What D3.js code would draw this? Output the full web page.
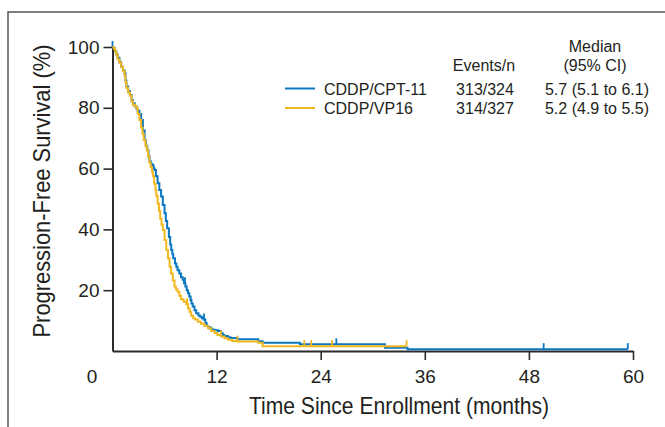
<!DOCTYPE html>
<html><head><meta charset="utf-8">
<script src="https://cdn.jsdelivr.net/npm/d3@7"></script>
<style>
body{margin:0;background:#fff}
svg{display:block}
text{font-family:"Liberation Sans",Arial,Helvetica,sans-serif;fill:#231f20}
</style>
</head><body>
<svg id="chart" width="665" height="427"></svg>
<script>
// ---- data ----
const seriesNames = ["CDDP/CPT-11", "CDDP/VP16"];
const eventsN = ["313/324", "314/327"];
const medianCI = ["5.7 (5.1 to 6.1)", "5.2 (4.9 to 5.5)"];
const xTicks = [0, 12, 24, 36, 48, 60];
const yTicks = [20, 40, 60, 80, 100];

const cptTime = [0,0.15,0.3,0.45,0.6,0.8,1.0,1.2,1.4,1.5,1.6,1.8,2.0,2.2,2.35,2.55,2.75,2.9,3.1,3.3,3.5,3.7,3.85,4.0,4.15,4.27,4.45,4.6,4.75,4.85,5.0,5.2,5.4,5.6,5.8,6.0,6.15,6.3,6.5,6.65,6.77,6.9,7.0,7.2,7.35,7.5,7.7,7.9,8.1,8.25,8.4,8.55,8.7,8.85,9.0,9.1,9.25,9.45,9.65,9.9,10.1,10.3,10.5,10.7,10.85,11.0,11.3,11.5,11.8,12.15,12.5,12.7,12.9,13.3,13.6,14.4,16.8,17.3,21.6,31.4,34.0,59.4];
const cptSurv = [100,99.5,98.5,97.5,96.5,95,93.5,92.3,91.3,89,87,85.5,84.2,82.5,81.5,80.5,79.8,79,78,76,72.5,69.4,67.5,66,64,62.3,61.5,61,60,59.5,57.5,55.2,53,50.8,48,45.3,42.8,40.4,37.5,35,33.2,31.8,30.5,28.8,27.7,26.6,25.5,24.3,23.4,22.3,21.2,20,19,17.9,16.8,15.6,14.6,13.4,12.4,11.7,11.3,10.8,10.4,9.2,8.3,7.8,7.3,7.0,6.8,6.6,5.8,5.3,4.9,4.5,4.3,3.9,3.2,2.7,2.2,1.1,0.6,0.6];
const cptCensor = [0, 8.35, 10.55, 25.8, 49.7, 59.4];

const vpTime = [0,0.15,0.3,0.45,0.6,0.8,1.0,1.2,1.4,1.5,1.6,1.8,2.0,2.2,2.35,2.55,2.75,2.9,3.1,3.3,3.45,3.6,3.8,3.95,4.1,4.25,4.4,4.55,4.65,4.8,4.95,5.05,5.2,5.35,5.5,5.65,5.8,6.0,6.2,6.4,6.58,6.75,6.95,7.15,7.3,7.5,7.7,7.9,8.2,8.5,8.7,8.9,9.07,9.3,9.5,9.85,10.2,10.6,11.0,11.4,11.76,12.1,12.5,12.9,13.3,13.8,14.4,16.8,17.3,33.9];
const vpSurv = [100,99.5,98.5,97.3,96,94.8,93.5,92,90.5,88.5,86.5,85,84,82,81,80.5,80,78,76,73.5,71.5,69.4,67.5,66,64,62,60.5,59,57.5,55,53,51,48.5,46,43.5,41.5,39.8,36.5,33.2,30.5,27.7,25.5,23.2,21.2,20.3,19.5,18.2,17,16.2,15.4,14,12.8,11.6,10.8,10.4,9.6,9.0,8.2,7.5,6.6,5.9,5.3,4.8,4.2,3.7,3.3,3.1,2.7,1.6,1.6];
const vpCensor = [8.6, 12.5, 14.4, 22.1, 22.9, 25.3, 33.9];

// ---- drawing ----
const svg = d3.select("#chart");
const colors = ["#0b77c0", "#f2b820"];
const x = d3.scaleLinear().domain([0, 60]).range([112.5, 633]);
const y = d3.scaleLinear().domain([0, 100]).range([351, 47]);

// frame
svg.append("path").attr("d", "M8,427 L8,12 L665,12")
  .attr("fill", "none").attr("stroke", "#555").attr("stroke-width", 1.5);

// axes
const xAxis = svg.append("g").attr("transform", `translate(0,${y(0)})`)
  .call(d3.axisBottom(x).tickValues(xTicks).tickSize(9).tickSizeOuter(0).tickPadding(10).tickFormat(d3.format("d")));
const yAxis = svg.append("g").attr("transform", `translate(${x(0)},0)`)
  .call(d3.axisLeft(y).tickValues(yTicks).tickSize(9).tickSizeOuter(0).tickPadding(4).tickFormat(d3.format("d")));
[xAxis, yAxis].forEach(g => {
  g.attr("font-size", null).attr("font-family", null);
  g.select(".domain").attr("stroke", "#2b2b2b").attr("stroke-width", 2);
  g.selectAll(".tick line").attr("stroke", "#2b2b2b").attr("stroke-width", 1.6);
  g.selectAll(".tick text").attr("font-size", 19).attr("fill", "#231f20")
    .attr("font-family", "'Liberation Sans', Arial, sans-serif");
});
xAxis.selectAll(".tick").filter(d => d === 0).select("line").remove();
xAxis.selectAll(".tick").filter(d => d === 0).select("text").attr("x", -21);

// curves
const series = [
  {t: cptTime, s: cptSurv, c: cptCensor},
  {t: vpTime, s: vpSurv, c: vpCensor}
];
const line = d3.line().x(d => x(d[0])).y(d => y(d[1])).curve(d3.curveStepAfter);
function survAt(ser, t) {
  let v = ser.s[0];
  for (let i = 0; i < ser.t.length; i++) { if (ser.t[i] <= t) v = ser.s[i]; }
  return v;
}
series.forEach((ser, i) => {
  const pts = ser.t.map((t, k) => [t, ser.s[k]]);
  svg.append("path").datum(pts).attr("d", line)
    .attr("fill", "none").attr("stroke", colors[i]).attr("stroke-width", 2);
  svg.append("g").selectAll("line").data(ser.c).join("line")
    .attr("x1", d => x(d)).attr("x2", d => x(d))
    .attr("y1", d => y(survAt(ser, d))).attr("y2", d => y(survAt(ser, d)) - 6)
    .attr("stroke", colors[i]).attr("stroke-width", 1.8);
});

// titles
svg.append("text").attr("x", 399).attr("y", 414).attr("text-anchor", "middle")
  .attr("font-size", 24).attr("textLength", 300).attr("lengthAdjust", "spacingAndGlyphs")
  .text("Time Since Enrollment (months)");
svg.append("text").attr("transform", "translate(50,191) rotate(-90)").attr("text-anchor", "middle")
  .attr("font-size", 24).attr("textLength", 293).attr("lengthAdjust", "spacingAndGlyphs")
  .text("Progression-Free Survival (%)");

// legend
const lg = svg.append("g").attr("font-size", 16);
lg.append("text").attr("x", 595).attr("y", 52).attr("text-anchor", "middle").text("Median");
lg.append("text").attr("x", 595).attr("y", 71).attr("text-anchor", "middle").text("(95% CI)");
lg.append("text").attr("x", 484).attr("y", 71).attr("text-anchor", "middle").text("Events/n");
seriesNames.forEach((name, i) => {
  const by = 94.5 + i * 19.5;
  lg.append("line").attr("x1", 285).attr("x2", 315).attr("y1", by - 6).attr("y2", by - 6)
    .attr("stroke", colors[i]).attr("stroke-width", 2);
  lg.append("text").attr("x", 324).attr("y", by).text(name);
  lg.append("text").attr("x", 485).attr("y", by).attr("text-anchor", "middle").text(eventsN[i]);
  lg.append("text").attr("x", 597).attr("y", by).attr("text-anchor", "middle").text(medianCI[i]);
});
</script>
</body></html>
